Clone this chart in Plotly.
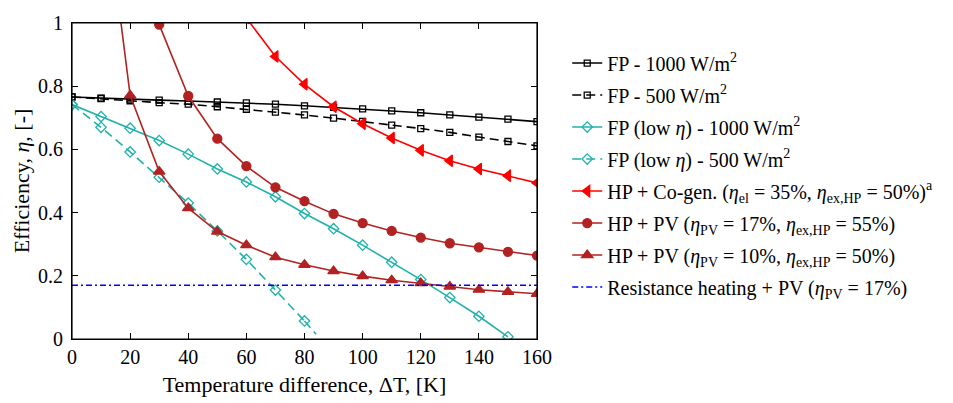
import plotly.graph_objects as go

# ---------------- data ----------------
x_fp = [0, 10, 20, 30, 40, 50, 60, 70, 80, 90, 100, 110, 120, 130, 140, 150, 160]
fp_1000 = [0.766, 0.762, 0.759, 0.756, 0.753, 0.750, 0.747, 0.743, 0.738, 0.733,
           0.728, 0.722, 0.716, 0.709, 0.702, 0.696, 0.688]
fp_500 = [0.766, 0.761, 0.754, 0.748, 0.743, 0.735, 0.727, 0.718, 0.709, 0.699,
          0.689, 0.677, 0.666, 0.654, 0.639, 0.625, 0.611]

x_low1000 = [0, 10, 20, 30, 40, 50, 60, 70, 80, 90, 100, 110, 120, 130, 140, 150]
low_1000 = [0.742, 0.704, 0.667, 0.628, 0.585, 0.538, 0.497, 0.450, 0.397, 0.349,
            0.297, 0.243, 0.188, 0.131, 0.072, 0.007]

x_low500 = [0, 10, 20, 30, 40, 50, 60, 70, 80]
low_500 = [0.742, 0.670, 0.592, 0.512, 0.430, 0.342, 0.252, 0.155, 0.057]
x_low500_tail = [80, 84]
low_500_tail = [0.057, 0.015]

x_cogen = [60, 70, 80, 90, 100, 110, 120, 130, 140, 150, 160]
hp_cogen = [1.016, 0.894, 0.806, 0.735, 0.681, 0.636, 0.597, 0.564, 0.538, 0.517, 0.494]

x_pv17 = [30, 40, 50, 60, 70, 80, 90, 100, 110, 120, 130, 140, 150, 160]
hp_pv17 = [0.995, 0.769, 0.634, 0.547, 0.480, 0.436, 0.396, 0.367, 0.342, 0.321,
           0.303, 0.290, 0.276, 0.264]

x_pv10 = [10, 20, 30, 40, 50, 60, 70, 80, 90, 100, 110, 120, 130, 140, 150, 160]
hp_pv10 = [1.5, 0.771, 0.530, 0.414, 0.340, 0.297, 0.259, 0.235, 0.215, 0.199,
           0.186, 0.177, 0.166, 0.156, 0.149, 0.143]

x_res = [0, 160]
res_pv = [0.17, 0.17]

x_ticks = [0, 20, 40, 60, 80, 100, 120, 140, 160]
y_ticks = [0, 0.2, 0.4, 0.6, 0.8, 1]
y_ticklabels = ["0", "0.2", "0.4", "0.6", "0.8", "1"]

# ---------------- styles ----------------
BLACK = "#000000"
TEAL = "#20B2AA"
RED = "#FF0000"
DRED = "#B22222"
BLUE = "#0000FF"
FONT = "Liberation Serif"

fig = go.Figure()

def add(x, y, name, color, dash, symbol, msize, group, showlegend=True, mode="lines+markers", mlw=1.3):
    fig.add_trace(go.Scatter(
        x=x, y=y, name=name, mode=mode, legendgroup=group, showlegend=showlegend,
        line=dict(color=color, width=1.6, dash=dash),
        marker=dict(symbol=symbol, size=msize, color=color, line=dict(color=color, width=mlw)),
    ))

add(x_fp, fp_1000, "FP - 1000 W/m<sup>2</sup>", BLACK, "solid", "square-open", 6, "g1")
add(x_fp, fp_500, "FP - 500 W/m<sup>2</sup>", BLACK, "9px,5px", "square-open", 6, "g2")
add(x_low1000, low_1000, "FP (low <i>η</i>) - 1000 W/m<sup>2</sup>", TEAL, "solid", "diamond-open", 8, "g3")
add(x_low500, low_500, "FP (low <i>η</i>) - 500 W/m<sup>2</sup>", TEAL, "9px,5px", "diamond-open", 8, "g4")
add(x_low500_tail, low_500_tail, "tail", TEAL, "9px,5px", "circle", 1, "g4", showlegend=False, mode="lines")
add(x_cogen, hp_cogen,
    "HP + Co-gen. (<i>η</i><sub>el</sub> = 35%, <i>η</i><sub>ex,HP</sub> = 50%)<sup>a</sup>",
    RED, "solid", "triangle-left", 10, "g5")
add(x_pv17, hp_pv17, "HP + PV (<i>η</i><sub>PV</sub> = 17%, <i>η</i><sub>ex,HP</sub> = 55%)",
    DRED, "solid", "circle", 9, "g6")
add(x_pv10, hp_pv10, "HP + PV (<i>η</i><sub>PV</sub> = 10%, <i>η</i><sub>ex,HP</sub> = 50%)",
    DRED, "solid", "triangle-up", 10, "g7")
add(x_res, res_pv, "Resistance heating + PV (<i>η</i><sub>PV</sub> = 17%)",
    BLUE, "6px,3px,2px,3px", "circle", 1, "g8", mode="lines")

fig.update_layout(
    width=945, height=395,
    margin=dict(l=64, r=416, t=15, b=64),
    paper_bgcolor="white", plot_bgcolor="white",
    font=dict(family=FONT, size=19, color="black"),
    showlegend=True,
    legend=dict(
        x=1.065, y=0.935, xanchor="left", yanchor="top",
        font=dict(family=FONT, size=20, color="black"),
        traceorder="grouped", tracegroupgap=3,
        bgcolor="rgba(0,0,0,0)", borderwidth=0,
    ),
    shapes=[dict(type="rect", xref="paper", yref="paper", x0=0, x1=1, y0=0, y1=1,
                 line=dict(color="black", width=1.2), layer="above")],
)

fig.update_xaxes(
    range=[0, 160], tickvals=x_ticks, automargin=False,
    showline=True, linecolor="black", linewidth=1.2, mirror="ticks",
    ticks="inside", ticklen=6, tickwidth=1, tickcolor="black",
    showgrid=False, zeroline=False, ticklabeloverflow="allow",
    tickfont=dict(family=FONT, size=20),
    title=dict(text="Temperature difference, ΔT, [K]", font=dict(family=FONT, size=22), standoff=9),
)
fig.update_yaxes(
    range=[0, 1], tickvals=y_ticks, ticktext=y_ticklabels, automargin=False,
    showline=True, linecolor="black", linewidth=1.2, mirror="ticks",
    ticks="inside", ticklen=6, tickwidth=1, tickcolor="black",
    showgrid=False, zeroline=False, ticklabelstandoff=4, ticklabeloverflow="allow",
    tickfont=dict(family=FONT, size=20),
    title=dict(text="Efficiency, <i>η</i>, [-]", font=dict(family=FONT, size=22), standoff=2),
)

fig.write_html("out.html", config={"displayModeBar": False})
